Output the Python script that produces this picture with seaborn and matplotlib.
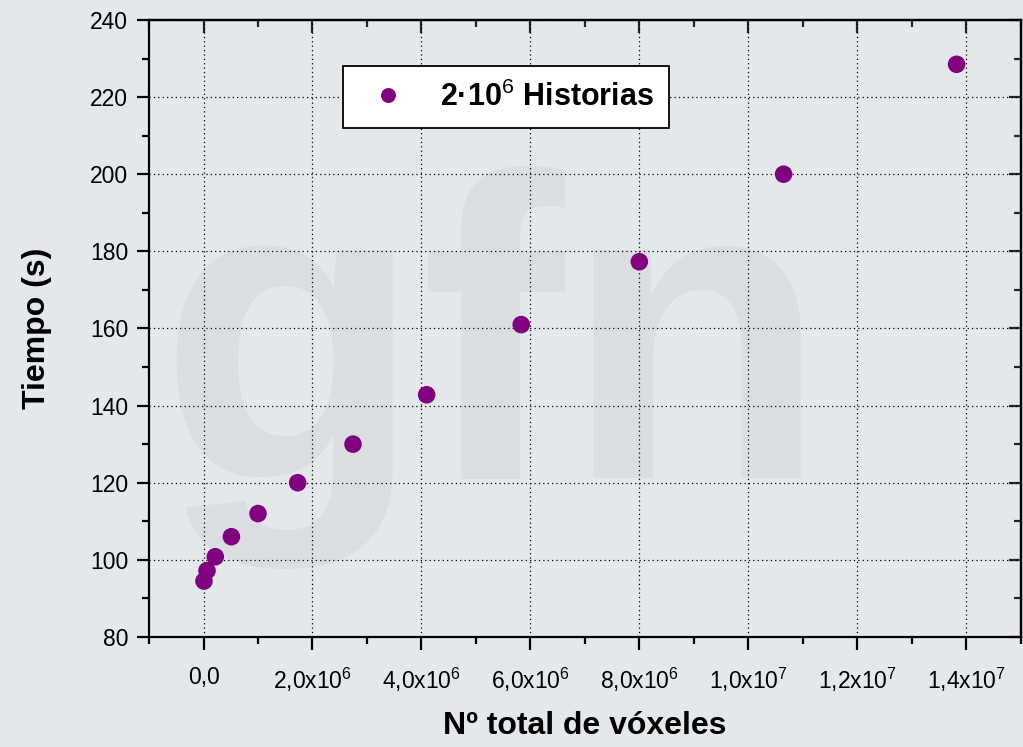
import matplotlib
matplotlib.use("Agg")
import matplotlib.pyplot as plt
from matplotlib.ticker import MultipleLocator
import pandas as pd
import seaborn as sns

sns.set_theme(style="ticks")
plt.rcParams['font.family'] = ['Liberation Sans', 'DejaVu Sans']
plt.rcParams['text.color'] = 'black'
plt.rcParams['axes.labelcolor'] = 'black'
plt.rcParams['mathtext.fontset'] = 'custom'
plt.rcParams['mathtext.rm'] = 'Liberation Sans'
plt.rcParams['mathtext.it'] = 'Liberation Sans:italic'
plt.rcParams['mathtext.bf'] = 'Liberation Sans:bold'

# voxel count vs time, 2e6 histories
voxeles = [8000, 64000, 216000, 512000, 1000000, 1728000, 2744000,
           4096000, 5832000, 8000000, 10648000, 13824000]
tiempo = [94.5, 97.2, 100.8, 106.0, 112.0, 120.0, 130.0,
          142.8, 161.0, 177.3, 200.0, 228.5]
serie = "2·10$^{6}$ Historias"

x_ticks = [0, 2e6, 4e6, 6e6, 8e6, 1e7, 1.2e7, 1.4e7]
x_labels = ["0,0", "2,0x10$^{6}$", "4,0x10$^{6}$", "6,0x10$^{6}$",
            "8,0x10$^{6}$", "1,0x10$^{7}$", "1,2x10$^{7}$", "1,4x10$^{7}$"]
y_ticks = [80, 100, 120, 140, 160, 180, 200, 220, 240]

df = pd.DataFrame({"voxeles": voxeles, "tiempo": tiempo, "serie": serie})

bg = "#e4e8eb"
fig = plt.figure(figsize=(10.23, 7.47), dpi=100, facecolor=bg)
ax = fig.add_axes([0.1457, 0.1473, 0.852, 0.826])
ax.set_facecolor("none")
ax.set_zorder(2)

# faint watermark behind the axes
fig.text(0.155, 0.36, "gfn", fontsize=310, fontweight="bold", color="#dadee1",
         zorder=0, family="Liberation Sans")

sns.scatterplot(data=df, x="voxeles", y="tiempo", hue="serie",
                palette=["#800080"], s=160, linewidth=0, ax=ax, zorder=3)

ax.set_xlim(-1e6, 1.5e7)
ax.set_ylim(80, 240)
ax.set_xticks(x_ticks)
ax.set_xticklabels(x_labels)
ax.set_yticks(y_ticks)
ax.xaxis.set_minor_locator(MultipleLocator(1e6))
ax.yaxis.set_minor_locator(MultipleLocator(10))

ax.grid(True, which="major", color="black", linestyle=(0, (1, 2.5)), linewidth=0.9)
for sp in ax.spines.values():
    sp.set_linewidth(1.6)
    sp.set_color("black")

ax.tick_params(which="major", direction="out", length=9, width=1.6,
               labelsize=16.5, colors="black")
ax.tick_params(axis="x", which="major", pad=12)
ax.tick_params(axis="y", which="major", pad=6)
ax.tick_params(which="minor", direction="out", length=5, width=1.6, colors="black")

# top and right ticks point inwards
top = ax.secondary_xaxis("top")
top.set_xticks(x_ticks)
top.xaxis.set_minor_locator(MultipleLocator(1e6))
top.tick_params(which="major", direction="in", length=9, width=1.6, labeltop=False)
top.tick_params(which="minor", direction="in", length=5, width=1.6)
top.spines["top"].set_linewidth(1.6)
right = ax.secondary_yaxis("right")
right.set_yticks(y_ticks)
right.yaxis.set_minor_locator(MultipleLocator(10))
right.tick_params(which="major", direction="in", length=9, width=1.6, labelright=False)
right.tick_params(which="minor", direction="in", length=5, width=1.6)
right.spines["right"].set_linewidth(1.6)

ax.set_xlabel("Nº total de vóxeles", fontsize=23, fontweight="bold", labelpad=12)
ax.set_ylabel("Tiempo (s)", fontsize=23, fontweight="bold", labelpad=27)

leg = ax.legend(loc="upper left", bbox_to_anchor=(0.2225, 0.925), borderaxespad=0,
                frameon=True, fancybox=False, framealpha=1, edgecolor="black",
                prop={"size": 22, "weight": "bold"}, markerscale=0.85,
                borderpad=0.5, handlelength=1.96, handletextpad=0.72)
leg.get_frame().set_linewidth(1.3)

fig.savefig("out.png", dpi=100, facecolor=bg)
